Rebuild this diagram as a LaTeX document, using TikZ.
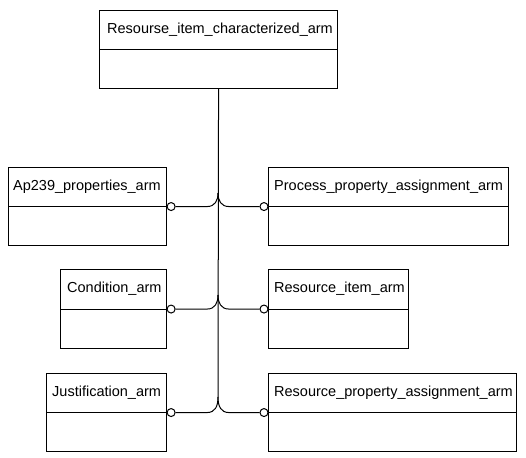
\documentclass[tikz,border=0pt]{standalone}
\usepackage{fontspec}
\setmainfont{Liberation Sans}
\usetikzlibrary{calc}
\begin{document}
\begin{tikzpicture}[x=1pt,y=-1pt,
  ent/.style={draw, line width=1.1pt, anchor=north west, inner sep=0pt},
  lbl/.style={anchor=west, inner sep=0pt, font=\fontsize{14.5}{17}\selectfont},
  circ/.style={draw, circle, line width=1pt, minimum size=8pt, inner sep=0pt, fill=white},
  conn/.style={line width=1pt}]
\useasboundingbox (0,0) rectangle (526,457);
% boxes
\node[ent, minimum width=238pt, minimum height=78pt] (top) at (99,10) {};
\node[ent, minimum width=158pt, minimum height=78pt] (ap) at (8,167) {};
\node[ent, minimum width=240pt, minimum height=78pt] (pp) at (268,167) {};
\node[ent, minimum width=106pt, minimum height=79pt] (co) at (60,269) {};
\node[ent, minimum width=140pt, minimum height=79pt] (ri) at (268,269) {};
\node[ent, minimum width=120pt, minimum height=78pt] (ju) at (46,373) {};
\node[ent, minimum width=248pt, minimum height=78pt] (rp) at (268,373) {};
% dividers
\foreach \n in {top,ap,pp,co,ri,ju,rp}{
  \draw[line width=1.1pt] (\n.west) -- (\n.east);
}
% labels
\node[lbl] (topt) at ($(top.north west)!0.5!(top.west)+(8,0)$) {Resourse\_item\_characterized\_arm};
\node[lbl] (apt) at ($(ap.north west)!0.5!(ap.west)+(5,0)$) {Ap239\_properties\_arm};
\node[lbl] (ppt) at ($(pp.north west)!0.5!(pp.west)+(6,0)$) {Process\_property\_assignment\_arm};
\node[lbl] (cot) at ($(co.north west)!0.5!(co.west)+(7,0)$) {Condition\_arm};
\node[lbl] (rit) at ($(ri.north west)!0.5!(ri.west)+(6,0)$) {Resource\_item\_arm};
\node[lbl] (jut) at ($(ju.north west)!0.5!(ju.west)+(6,0)$) {Justification\_arm};
\node[lbl] (rpt) at ($(rp.north west)!0.5!(rp.west)+(6,0)$) {Resource\_property\_assignment\_arm};
% junctions
\coordinate (j1) at (218,193);
\coordinate (j2) at (218,295);
\coordinate (j3) at (218,397);
\draw[conn] (top.south) -- (j3);
% circles
\node[circ] (c1l) at ($(ap.east)+(4,0)$) {};
\node[circ] (c1r) at ($(pp.west)+(-4,0)$) {};
\node[circ] (c2l) at ($(co.east)+(4,0)$) {};
\node[circ] (c2r) at ($(ri.west)+(-4,0)$) {};
\node[circ] (c3l) at ($(ju.east)+(4,0)$) {};
\node[circ] (c3r) at ($(rp.west)+(-4,0)$) {};
% connectors
\foreach \l/\r/\j in {c1l/c1r/j1,c2l/c2r/j2,c3l/c3r/j3}{
  \draw[conn] (\l.east) -- ($(\l.east -| \j)+(-11,0)$)
     .. controls ($(\l.east -| \j)+(-3,0)$) and ($(\l.east -| \j)+(0,-6)$) .. (\j);
  \draw[conn] (\r.west) -- ($(\r.west -| \j)+(11,0)$)
     .. controls ($(\r.west -| \j)+(3,0)$) and ($(\r.west -| \j)+(0,-6)$) .. (\j);
}
\end{tikzpicture}
\end{document}
